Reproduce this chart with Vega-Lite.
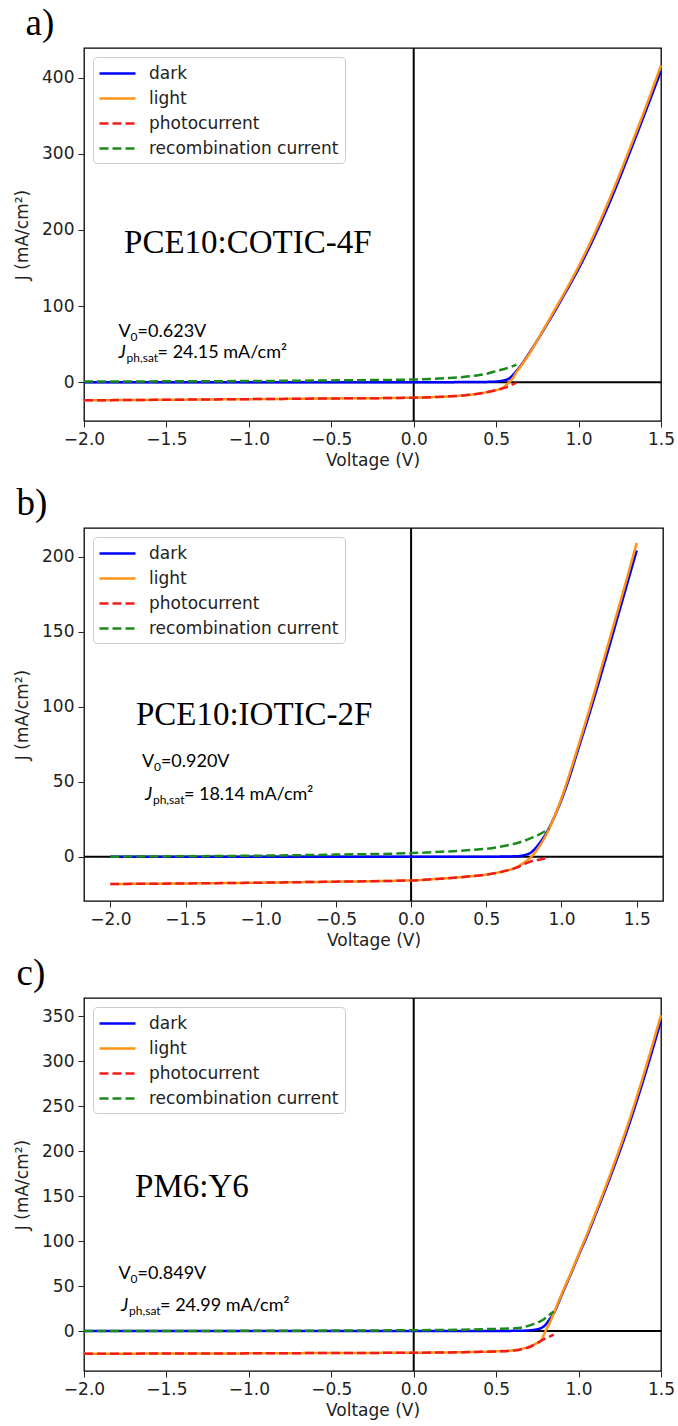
{
  "$schema": "https://vega.github.io/schema/vega-lite/v6.json",
  "background": "white",
  "padding": {"left": 12, "top": 4, "right": 4, "bottom": 2},
  "config": {
    "view": {"stroke": "black", "strokeWidth": 1.3},
    "axis": {"labelFont": "DejaVu Sans", "labelFontSize": 17, "titleFont": "DejaVu Sans", "titleFontSize": 17, "titleFontWeight": "normal", "labelColor": "#222", "titleColor": "#222", "tickColor": "#222", "tickSize": 6, "grid": false, "domain": false, "labelPadding": 4, "titlePadding": 5, "labelFlush": false},
    "axisY": {"titlePadding": 10},
    "legend": {"orient": "top-left", "offset": 9, "fillColor": "white", "strokeColor": "#cccccc", "cornerRadius": 4, "padding": 6, "labelFont": "DejaVu Sans", "labelFontSize": 17, "labelColor": "#222", "labelLimit": 400, "symbolType": "M-2,0L2,0", "symbolSize": 324, "symbolStrokeWidth": 2.5, "symbolOffset": 8, "rowPadding": 6, "labelOffset": 21},
    "title": {"font": "Liberation Serif", "fontSize": 37, "fontWeight": "normal", "anchor": "start", "frame": "bounds", "color": "black", "offset": 4},
    "line": {"strokeWidth": 2.5, "interpolate": "monotone"}
  },
  "datasets": {
    "zero": [{"v": 0, "j": 0}],
    "a": [
      {"s": "dark", "v": -2, "j": 0}, {"s": "dark", "v": -1.5, "j": 0}, {"s": "dark", "v": -1, "j": 0}, {"s": "dark", "v": -0.5, "j": 0}, {"s": "dark", "v": 0, "j": 0}, {"s": "dark", "v": 0.3, "j": 0.1}, {"s": "dark", "v": 0.45, "j": 0.4}, {"s": "dark", "v": 0.5, "j": 0.9}, {"s": "dark", "v": 0.55, "j": 2.5}, {"s": "dark", "v": 0.58, "j": 5}, {"s": "dark", "v": 0.6, "j": 9}, {"s": "dark", "v": 0.62, "j": 14}, {"s": "dark", "v": 0.65, "j": 22}, {"s": "dark", "v": 0.7, "j": 38}, {"s": "dark", "v": 0.75, "j": 55}, {"s": "dark", "v": 0.8, "j": 73}, {"s": "dark", "v": 0.85, "j": 91}, {"s": "dark", "v": 0.9, "j": 110}, {"s": "dark", "v": 1.0, "j": 149}, {"s": "dark", "v": 1.1, "j": 193}, {"s": "dark", "v": 1.2, "j": 242}, {"s": "dark", "v": 1.3, "j": 296}, {"s": "dark", "v": 1.4, "j": 352}, {"s": "dark", "v": 1.5, "j": 409},
      {"s": "light", "v": -2, "j": -23.8}, {"s": "light", "v": -1.5, "j": -23.1}, {"s": "light", "v": -1, "j": -22.3}, {"s": "light", "v": -0.5, "j": -21.4}, {"s": "light", "v": 0, "j": -20.4}, {"s": "light", "v": 0.2, "j": -18.8}, {"s": "light", "v": 0.3, "j": -17.4}, {"s": "light", "v": 0.4, "j": -14.8}, {"s": "light", "v": 0.45, "j": -12.8}, {"s": "light", "v": 0.5, "j": -10.5}, {"s": "light", "v": 0.53, "j": -8.5}, {"s": "light", "v": 0.55, "j": -6}, {"s": "light", "v": 0.57, "j": -2}, {"s": "light", "v": 0.58, "j": 0}, {"s": "light", "v": 0.6, "j": 5}, {"s": "light", "v": 0.62, "j": 12}, {"s": "light", "v": 0.65, "j": 21}, {"s": "light", "v": 0.7, "j": 37}, {"s": "light", "v": 0.75, "j": 55}, {"s": "light", "v": 0.8, "j": 74}, {"s": "light", "v": 0.85, "j": 93}, {"s": "light", "v": 0.9, "j": 112}, {"s": "light", "v": 1.0, "j": 152}, {"s": "light", "v": 1.1, "j": 197}, {"s": "light", "v": 1.2, "j": 247}, {"s": "light", "v": 1.3, "j": 301}, {"s": "light", "v": 1.4, "j": 357}, {"s": "light", "v": 1.5, "j": 416},
      {"s": "photocurrent", "v": -2, "j": -23.8}, {"s": "photocurrent", "v": -1.5, "j": -23.1}, {"s": "photocurrent", "v": -1, "j": -22.3}, {"s": "photocurrent", "v": -0.5, "j": -21.4}, {"s": "photocurrent", "v": 0, "j": -20.4}, {"s": "photocurrent", "v": 0.2, "j": -18.8}, {"s": "photocurrent", "v": 0.3, "j": -17.4}, {"s": "photocurrent", "v": 0.4, "j": -14.8}, {"s": "photocurrent", "v": 0.45, "j": -12.8}, {"s": "photocurrent", "v": 0.5, "j": -10.3}, {"s": "photocurrent", "v": 0.55, "j": -7.5}, {"s": "photocurrent", "v": 0.58, "j": -5}, {"s": "photocurrent", "v": 0.6, "j": -3}, {"s": "photocurrent", "v": 0.623, "j": -1},
      {"s": "recombination current", "v": -2, "j": 0.8}, {"s": "recombination current", "v": -1.5, "j": 1.1}, {"s": "recombination current", "v": -1, "j": 1.5}, {"s": "recombination current", "v": -0.5, "j": 2.3}, {"s": "recombination current", "v": 0, "j": 3.5}, {"s": "recombination current", "v": 0.2, "j": 5.3}, {"s": "recombination current", "v": 0.3, "j": 6.8}, {"s": "recombination current", "v": 0.4, "j": 9.5}, {"s": "recombination current", "v": 0.45, "j": 11.5}, {"s": "recombination current", "v": 0.5, "j": 14.5}, {"s": "recombination current", "v": 0.55, "j": 17.3}, {"s": "recombination current", "v": 0.6, "j": 21}, {"s": "recombination current", "v": 0.623, "j": 23}
    ],
    "b": [
      {"s": "dark", "v": -2, "j": 0}, {"s": "dark", "v": -1, "j": 0}, {"s": "dark", "v": 0, "j": 0}, {"s": "dark", "v": 0.5, "j": 0}, {"s": "dark", "v": 0.7, "j": 0.3}, {"s": "dark", "v": 0.75, "j": 1}, {"s": "dark", "v": 0.8, "j": 3}, {"s": "dark", "v": 0.85, "j": 8.5}, {"s": "dark", "v": 0.9, "j": 16}, {"s": "dark", "v": 0.95, "j": 26}, {"s": "dark", "v": 1.0, "j": 38}, {"s": "dark", "v": 1.05, "j": 52}, {"s": "dark", "v": 1.1, "j": 68}, {"s": "dark", "v": 1.2, "j": 100}, {"s": "dark", "v": 1.3, "j": 134}, {"s": "dark", "v": 1.4, "j": 169}, {"s": "dark", "v": 1.5, "j": 204},
      {"s": "light", "v": -2, "j": -18.2}, {"s": "light", "v": -1.5, "j": -17.8}, {"s": "light", "v": -1, "j": -17.3}, {"s": "light", "v": -0.5, "j": -16.6}, {"s": "light", "v": 0, "j": -15.8}, {"s": "light", "v": 0.2, "j": -14.6}, {"s": "light", "v": 0.4, "j": -13.0}, {"s": "light", "v": 0.5, "j": -11.9}, {"s": "light", "v": 0.6, "j": -10.0}, {"s": "light", "v": 0.7, "j": -7}, {"s": "light", "v": 0.75, "j": -4}, {"s": "light", "v": 0.8, "j": 0}, {"s": "light", "v": 0.85, "j": 6.5}, {"s": "light", "v": 0.9, "j": 15}, {"s": "light", "v": 0.95, "j": 26}, {"s": "light", "v": 1.0, "j": 39}, {"s": "light", "v": 1.05, "j": 54}, {"s": "light", "v": 1.1, "j": 70}, {"s": "light", "v": 1.2, "j": 103}, {"s": "light", "v": 1.3, "j": 138}, {"s": "light", "v": 1.4, "j": 173}, {"s": "light", "v": 1.5, "j": 209},
      {"s": "photocurrent", "v": -2, "j": -18.2}, {"s": "photocurrent", "v": -1.5, "j": -17.8}, {"s": "photocurrent", "v": -1, "j": -17.3}, {"s": "photocurrent", "v": -0.5, "j": -16.6}, {"s": "photocurrent", "v": 0, "j": -15.8}, {"s": "photocurrent", "v": 0.2, "j": -14.6}, {"s": "photocurrent", "v": 0.4, "j": -13.0}, {"s": "photocurrent", "v": 0.5, "j": -11.9}, {"s": "photocurrent", "v": 0.6, "j": -10.1}, {"s": "photocurrent", "v": 0.7, "j": -7.3}, {"s": "photocurrent", "v": 0.75, "j": -5}, {"s": "photocurrent", "v": 0.8, "j": -3}, {"s": "photocurrent", "v": 0.85, "j": -2}, {"s": "photocurrent", "v": 0.9, "j": -0.8}, {"s": "photocurrent", "v": 0.92, "j": -0.3},
      {"s": "recombination current", "v": -2, "j": 0}, {"s": "recombination current", "v": -1.5, "j": 0.3}, {"s": "recombination current", "v": -1, "j": 0.7}, {"s": "recombination current", "v": -0.5, "j": 1.4}, {"s": "recombination current", "v": 0, "j": 2.4}, {"s": "recombination current", "v": 0.2, "j": 3.3}, {"s": "recombination current", "v": 0.4, "j": 4.5}, {"s": "recombination current", "v": 0.5, "j": 5.3}, {"s": "recombination current", "v": 0.6, "j": 6.8}, {"s": "recombination current", "v": 0.7, "j": 9}, {"s": "recombination current", "v": 0.75, "j": 10.5}, {"s": "recombination current", "v": 0.8, "j": 12.5}, {"s": "recombination current", "v": 0.85, "j": 14.8}, {"s": "recombination current", "v": 0.92, "j": 18.6}
    ],
    "c": [
      {"s": "dark", "v": -2, "j": 0}, {"s": "dark", "v": -1, "j": 0}, {"s": "dark", "v": 0, "j": 0}, {"s": "dark", "v": 0.5, "j": 0.1}, {"s": "dark", "v": 0.65, "j": 0.3}, {"s": "dark", "v": 0.7, "j": 0.8}, {"s": "dark", "v": 0.75, "j": 2}, {"s": "dark", "v": 0.78, "j": 4}, {"s": "dark", "v": 0.8, "j": 7}, {"s": "dark", "v": 0.82, "j": 12}, {"s": "dark", "v": 0.85, "j": 20}, {"s": "dark", "v": 0.9, "j": 41}, {"s": "dark", "v": 0.95, "j": 62}, {"s": "dark", "v": 1.0, "j": 84}, {"s": "dark", "v": 1.05, "j": 105}, {"s": "dark", "v": 1.1, "j": 128}, {"s": "dark", "v": 1.2, "j": 175}, {"s": "dark", "v": 1.3, "j": 226}, {"s": "dark", "v": 1.4, "j": 283}, {"s": "dark", "v": 1.5, "j": 345},
      {"s": "light", "v": -2, "j": -25.3}, {"s": "light", "v": -1.5, "j": -25}, {"s": "light", "v": -1, "j": -24.8}, {"s": "light", "v": -0.5, "j": -24.4}, {"s": "light", "v": 0, "j": -24.1}, {"s": "light", "v": 0.3, "j": -23.5}, {"s": "light", "v": 0.5, "j": -22.5}, {"s": "light", "v": 0.6, "j": -21.5}, {"s": "light", "v": 0.65, "j": -20}, {"s": "light", "v": 0.7, "j": -17.5}, {"s": "light", "v": 0.74, "j": -14}, {"s": "light", "v": 0.77, "j": -11}, {"s": "light", "v": 0.79, "j": -4}, {"s": "light", "v": 0.8, "j": 0}, {"s": "light", "v": 0.825, "j": 9}, {"s": "light", "v": 0.85, "j": 20}, {"s": "light", "v": 0.9, "j": 42}, {"s": "light", "v": 0.95, "j": 63}, {"s": "light", "v": 1.0, "j": 85}, {"s": "light", "v": 1.05, "j": 107}, {"s": "light", "v": 1.1, "j": 130}, {"s": "light", "v": 1.2, "j": 178}, {"s": "light", "v": 1.3, "j": 230}, {"s": "light", "v": 1.4, "j": 288}, {"s": "light", "v": 1.5, "j": 351},
      {"s": "photocurrent", "v": -2, "j": -25.3}, {"s": "photocurrent", "v": -1.5, "j": -25}, {"s": "photocurrent", "v": -1, "j": -24.8}, {"s": "photocurrent", "v": -0.5, "j": -24.4}, {"s": "photocurrent", "v": 0, "j": -24.1}, {"s": "photocurrent", "v": 0.3, "j": -23.5}, {"s": "photocurrent", "v": 0.5, "j": -22.6}, {"s": "photocurrent", "v": 0.6, "j": -21.8}, {"s": "photocurrent", "v": 0.65, "j": -20.5}, {"s": "photocurrent", "v": 0.7, "j": -18}, {"s": "photocurrent", "v": 0.74, "j": -14.4}, {"s": "photocurrent", "v": 0.78, "j": -10}, {"s": "photocurrent", "v": 0.82, "j": -6.5}, {"s": "photocurrent", "v": 0.849, "j": -4},
      {"s": "recombination current", "v": -2, "j": 0}, {"s": "recombination current", "v": -1, "j": 0.2}, {"s": "recombination current", "v": -0.5, "j": 0.5}, {"s": "recombination current", "v": 0, "j": 0.9}, {"s": "recombination current", "v": 0.3, "j": 1.5}, {"s": "recombination current", "v": 0.5, "j": 2.4}, {"s": "recombination current", "v": 0.62, "j": 3}, {"s": "recombination current", "v": 0.7, "j": 6}, {"s": "recombination current", "v": 0.74, "j": 8.5}, {"s": "recombination current", "v": 0.78, "j": 12}, {"s": "recombination current", "v": 0.81, "j": 16}, {"s": "recombination current", "v": 0.849, "j": 21.7}
    ],
    "notes_a": [
      {"part": "name", "v": -1.757, "j": 170, "label": "PCE10:COTIC-4F"},
      {"part": "V", "v": -1.79, "j": 59, "label": "V"},
      {"part": "Vsub", "v": -1.79, "j": 59, "label": "0"},
      {"part": "Vrest", "v": -1.79, "j": 59, "label": "=0.623V"},
      {"part": "J", "v": -1.79, "j": 32, "label": "J"},
      {"part": "Jsub", "v": -1.79, "j": 32, "label": "ph,sat"},
      {"part": "Jrest", "v": -1.79, "j": 32, "label": "= 24.15 mA/cm²"}
    ],
    "notes_b": [
      {"part": "name", "v": -1.83, "j": 88, "label": "PCE10:IOTIC-2F"},
      {"part": "V", "v": -1.79, "j": 60, "label": "V"},
      {"part": "Vsub", "v": -1.79, "j": 60, "label": "0"},
      {"part": "Vrest", "v": -1.79, "j": 60, "label": "=0.920V"},
      {"part": "J", "v": -1.77, "j": 38, "label": "J"},
      {"part": "Jsub", "v": -1.77, "j": 38, "label": "ph,sat"},
      {"part": "Jrest", "v": -1.77, "j": 38, "label": "= 18.14 mA/cm²"}
    ],
    "notes_c": [
      {"part": "name", "v": -1.69, "j": 149, "label": "PM6:Y6"},
      {"part": "V", "v": -1.79, "j": 58, "label": "V"},
      {"part": "Vsub", "v": -1.79, "j": 58, "label": "0"},
      {"part": "Vrest", "v": -1.79, "j": 58, "label": "=0.849V"},
      {"part": "J", "v": -1.775, "j": 22, "label": "J"},
      {"part": "Jsub", "v": -1.775, "j": 22, "label": "ph,sat"},
      {"part": "Jrest", "v": -1.775, "j": 22, "label": "= 24.99 mA/cm²"}
    ]
  },
  "spacing": 15,
  "resolve": {"scale": {"x": "independent", "y": "independent", "color": "independent", "strokeDash": "independent"}, "legend": {"color": "independent", "strokeDash": "independent"}},
  "vconcat": [
    {
      "title": {"text": "a)", "dx": 12},
      "width": 577, "height": 373,
      "encoding": {
        "x": {"field": "v", "type": "quantitative", "title": "Voltage (V)", "scale": {"domain": [-2, 1.5], "nice": false, "zero": false}, "axis": {"values": [-2, -1.5, -1, -0.5, 0, 0.5, 1, 1.5], "format": ".1f"}},
        "y": {"field": "j", "type": "quantitative", "title": "J (mA/cm²)", "scale": {"domain": [-51, 439], "nice": false, "zero": false}, "axis": {"values": [0, 100, 200, 300, 400]}}
      },
      "layer": [
        {"data": {"name": "zero"}, "mark": {"type": "rule", "color": "black", "strokeWidth": 2}, "encoding": {"x": null}},
        {"data": {"name": "zero"}, "mark": {"type": "rule", "color": "black", "strokeWidth": 2}, "encoding": {"y": null}},
        {"data": {"name": "a"}, "mark": {"type": "line"},
         "encoding": {
           "color": {"field": "s", "type": "nominal", "title": null, "scale": {"domain": ["dark", "light", "photocurrent", "recombination current"], "range": ["#0000ff", "#ff9414", "#f01c1c", "#1a8a1a"]}},
           "strokeDash": {"field": "s", "type": "nominal", "title": null, "scale": {"domain": ["dark", "light", "photocurrent", "recombination current"], "range": [[1, 0], [1, 0], [9, 4], [9, 4]]}}
         }},
        {"data": {"name": "notes_a"}, "transform": [{"filter": "datum.part == 'name'"}], "mark": {"type": "text", "font": "Liberation Serif", "fontSize": 33, "align": "left", "baseline": "alphabetic", "color": "black"}, "encoding": {"text": {"field": "label"}}},
        {"data": {"name": "notes_a"}, "transform": [{"filter": "datum.part == 'V'"}], "mark": {"type": "text", "font": "Lato", "fontSize": 18, "align": "left", "baseline": "alphabetic", "color": "black"}, "encoding": {"text": {"field": "label"}}},
        {"data": {"name": "notes_a"}, "transform": [{"filter": "datum.part == 'Vsub'"}], "mark": {"type": "text", "font": "Lato", "fontSize": 12, "align": "left", "baseline": "alphabetic", "dx": 12, "dy": 4, "color": "black"}, "encoding": {"text": {"field": "label"}}},
        {"data": {"name": "notes_a"}, "transform": [{"filter": "datum.part == 'Vrest'"}], "mark": {"type": "text", "font": "Lato", "fontSize": 18, "align": "left", "baseline": "alphabetic", "dx": 19, "color": "black"}, "encoding": {"text": {"field": "label"}}},
        {"data": {"name": "notes_a"}, "transform": [{"filter": "datum.part == 'J'"}], "mark": {"type": "text", "font": "Lato", "fontSize": 18, "fontStyle": "italic", "align": "left", "baseline": "alphabetic", "color": "black"}, "encoding": {"text": {"field": "label"}}},
        {"data": {"name": "notes_a"}, "transform": [{"filter": "datum.part == 'Jsub'"}], "mark": {"type": "text", "font": "Lato", "fontSize": 12, "align": "left", "baseline": "alphabetic", "dx": 8, "dy": 4, "color": "black"}, "encoding": {"text": {"field": "label"}}},
        {"data": {"name": "notes_a"}, "transform": [{"filter": "datum.part == 'Jrest'"}], "mark": {"type": "text", "font": "Lato", "fontSize": 18, "align": "left", "baseline": "alphabetic", "dx": 39, "color": "black"}, "encoding": {"text": {"field": "label"}}}
      ]
    },
    {
      "spacing": 5,
      "resolve": {"scale": {"x": "independent", "y": "independent", "color": "independent", "strokeDash": "independent"}, "legend": {"color": "independent", "strokeDash": "independent"}},
      "vconcat": [
        {
          "title": {"text": "b)", "dx": 3},
          "width": 579, "height": 373,
          "encoding": {
            "x": {"field": "v", "type": "quantitative", "title": "Voltage (V)", "scale": {"domain": [-2.175, 1.675], "nice": false, "zero": false}, "axis": {"values": [-2, -1.5, -1, -0.5, 0, 0.5, 1, 1.5], "format": ".1f"}},
            "y": {"field": "j", "type": "quantitative", "title": "J (mA/cm²)", "scale": {"domain": [-29.5, 219], "nice": false, "zero": false}, "axis": {"values": [0, 50, 100, 150, 200]}}
          },
          "layer": [
            {"data": {"name": "zero"}, "mark": {"type": "rule", "color": "black", "strokeWidth": 2}, "encoding": {"x": null}},
            {"data": {"name": "zero"}, "mark": {"type": "rule", "color": "black", "strokeWidth": 2}, "encoding": {"y": null}},
            {"data": {"name": "b"}, "mark": {"type": "line"},
             "encoding": {
               "color": {"field": "s", "type": "nominal", "title": null, "scale": {"domain": ["dark", "light", "photocurrent", "recombination current"], "range": ["#0000ff", "#ff9414", "#f01c1c", "#1a8a1a"]}},
               "strokeDash": {"field": "s", "type": "nominal", "title": null, "scale": {"domain": ["dark", "light", "photocurrent", "recombination current"], "range": [[1, 0], [1, 0], [9, 4], [9, 4]]}}
             }},
            {"data": {"name": "notes_b"}, "transform": [{"filter": "datum.part == 'name'"}], "mark": {"type": "text", "font": "Liberation Serif", "fontSize": 33, "align": "left", "baseline": "alphabetic", "color": "black"}, "encoding": {"text": {"field": "label"}}},
            {"data": {"name": "notes_b"}, "transform": [{"filter": "datum.part == 'V'"}], "mark": {"type": "text", "font": "Lato", "fontSize": 18, "align": "left", "baseline": "alphabetic", "color": "black"}, "encoding": {"text": {"field": "label"}}},
            {"data": {"name": "notes_b"}, "transform": [{"filter": "datum.part == 'Vsub'"}], "mark": {"type": "text", "font": "Lato", "fontSize": 12, "align": "left", "baseline": "alphabetic", "dx": 12, "dy": 4, "color": "black"}, "encoding": {"text": {"field": "label"}}},
            {"data": {"name": "notes_b"}, "transform": [{"filter": "datum.part == 'Vrest'"}], "mark": {"type": "text", "font": "Lato", "fontSize": 18, "align": "left", "baseline": "alphabetic", "dx": 19, "color": "black"}, "encoding": {"text": {"field": "label"}}},
            {"data": {"name": "notes_b"}, "transform": [{"filter": "datum.part == 'J'"}], "mark": {"type": "text", "font": "Lato", "fontSize": 18, "fontStyle": "italic", "align": "left", "baseline": "alphabetic", "color": "black"}, "encoding": {"text": {"field": "label"}}},
            {"data": {"name": "notes_b"}, "transform": [{"filter": "datum.part == 'Jsub'"}], "mark": {"type": "text", "font": "Lato", "fontSize": 12, "align": "left", "baseline": "alphabetic", "dx": 8, "dy": 4, "color": "black"}, "encoding": {"text": {"field": "label"}}},
            {"data": {"name": "notes_b"}, "transform": [{"filter": "datum.part == 'Jrest'"}], "mark": {"type": "text", "font": "Lato", "fontSize": 18, "align": "left", "baseline": "alphabetic", "dx": 39, "color": "black"}, "encoding": {"text": {"field": "label"}}}
          ]
        },
        {
          "title": {"text": "c)", "dx": 3},
          "width": 577, "height": 373,
          "encoding": {
            "x": {"field": "v", "type": "quantitative", "title": "Voltage (V)", "scale": {"domain": [-2, 1.5], "nice": false, "zero": false}, "axis": {"values": [-2, -1.5, -1, -0.5, 0, 0.5, 1, 1.5], "format": ".1f"}},
            "y": {"field": "j", "type": "quantitative", "title": "J (mA/cm²)", "scale": {"domain": [-44.4, 370], "nice": false, "zero": false}, "axis": {"values": [0, 50, 100, 150, 200, 250, 300, 350]}}
          },
          "layer": [
            {"data": {"name": "zero"}, "mark": {"type": "rule", "color": "black", "strokeWidth": 2}, "encoding": {"x": null}},
            {"data": {"name": "zero"}, "mark": {"type": "rule", "color": "black", "strokeWidth": 2}, "encoding": {"y": null}},
            {"data": {"name": "c"}, "mark": {"type": "line"},
             "encoding": {
               "color": {"field": "s", "type": "nominal", "title": null, "scale": {"domain": ["dark", "light", "photocurrent", "recombination current"], "range": ["#0000ff", "#ff9414", "#f01c1c", "#1a8a1a"]}},
               "strokeDash": {"field": "s", "type": "nominal", "title": null, "scale": {"domain": ["dark", "light", "photocurrent", "recombination current"], "range": [[1, 0], [1, 0], [9, 4], [9, 4]]}}
             }},
            {"data": {"name": "notes_c"}, "transform": [{"filter": "datum.part == 'name'"}], "mark": {"type": "text", "font": "Liberation Serif", "fontSize": 33, "align": "left", "baseline": "alphabetic", "color": "black"}, "encoding": {"text": {"field": "label"}}},
            {"data": {"name": "notes_c"}, "transform": [{"filter": "datum.part == 'V'"}], "mark": {"type": "text", "font": "Lato", "fontSize": 18, "align": "left", "baseline": "alphabetic", "color": "black"}, "encoding": {"text": {"field": "label"}}},
            {"data": {"name": "notes_c"}, "transform": [{"filter": "datum.part == 'Vsub'"}], "mark": {"type": "text", "font": "Lato", "fontSize": 12, "align": "left", "baseline": "alphabetic", "dx": 12, "dy": 4, "color": "black"}, "encoding": {"text": {"field": "label"}}},
            {"data": {"name": "notes_c"}, "transform": [{"filter": "datum.part == 'Vrest'"}], "mark": {"type": "text", "font": "Lato", "fontSize": 18, "align": "left", "baseline": "alphabetic", "dx": 19, "color": "black"}, "encoding": {"text": {"field": "label"}}},
            {"data": {"name": "notes_c"}, "transform": [{"filter": "datum.part == 'J'"}], "mark": {"type": "text", "font": "Lato", "fontSize": 18, "fontStyle": "italic", "align": "left", "baseline": "alphabetic", "color": "black"}, "encoding": {"text": {"field": "label"}}},
            {"data": {"name": "notes_c"}, "transform": [{"filter": "datum.part == 'Jsub'"}], "mark": {"type": "text", "font": "Lato", "fontSize": 12, "align": "left", "baseline": "alphabetic", "dx": 8, "dy": 4, "color": "black"}, "encoding": {"text": {"field": "label"}}},
            {"data": {"name": "notes_c"}, "transform": [{"filter": "datum.part == 'Jrest'"}], "mark": {"type": "text", "font": "Lato", "fontSize": 18, "align": "left", "baseline": "alphabetic", "dx": 39, "color": "black"}, "encoding": {"text": {"field": "label"}}}
          ]
        }
      ]
    }
  ]
}
